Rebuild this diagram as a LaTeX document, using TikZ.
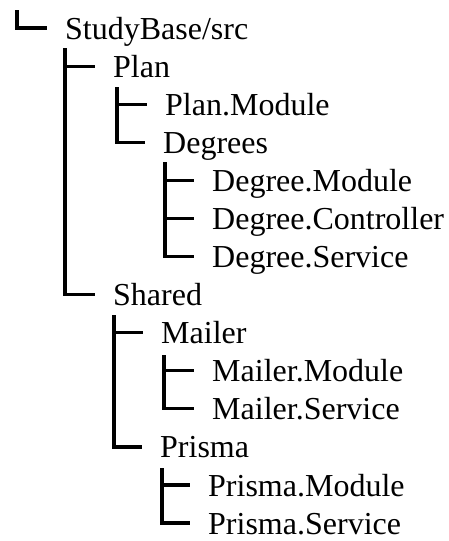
\documentclass[tikz,border=0pt]{standalone}
\usepackage{fontspec}
\setmainfont{Liberation Serif}
\usetikzlibrary{calc}
\begin{document}
\begin{tikzpicture}[x=1pt,y=-1pt,
  entry/.style={anchor=base west,inner sep=0pt,font=\fontsize{32}{38}\selectfont},
  branch/.style={line width=3.2pt}]
\useasboundingbox (0,0) rectangle (449,541);

% entries of the directory tree (x = text start, y = baseline)
\node[entry] (n0)  at (65,39)    {StudyBase/src};
\node[entry] (n1)  at (113,77.1) {Plan};
\node[entry] (n2)  at (165,115.2){Plan.Module};
\node[entry] (n3)  at (163,153.2){Degrees};
\node[entry] (n4)  at (212,191.3){Degree.Module};
\node[entry] (n5)  at (212,229.4){Degree.Controller};
\node[entry] (n6)  at (212,267.5){Degree.Service};
\node[entry] (n7)  at (113,305.6){Shared};
\node[entry] (n8)  at (161,343.6){Mailer};
\node[entry] (n9)  at (212,381.7){Mailer.Module};
\node[entry] (n10) at (212,419.8){Mailer.Service};
\node[entry] (n11) at (160,457.9){Prisma};
\node[entry] (n12) at (208,496)  {Prisma.Module};
\node[entry] (n13) at (208,534)  {Prisma.Service};

% tops of the vertical stems
\coordinate (r)   at (17,10);
\coordinate (s0)  at (65,48);
\coordinate (s1)  at (117,87);
\coordinate (s3)  at (165,162);
\coordinate (s7)  at (114,315);
\coordinate (s8)  at (164,355);
\coordinate (s11) at (162,468);

% branches: stem down, then a short tick towards the entry
\foreach \s/\n in {r/n0, s0/n1, s0/n7, s1/n2, s1/n3,
                   s3/n4, s3/n5, s3/n6, s7/n8, s7/n11,
                   s8/n9, s8/n10, s11/n12, s11/n13}
  \draw[branch] (\s) |- ($(\n.base west)+(-18,-11)$);
\end{tikzpicture}
\end{document}
